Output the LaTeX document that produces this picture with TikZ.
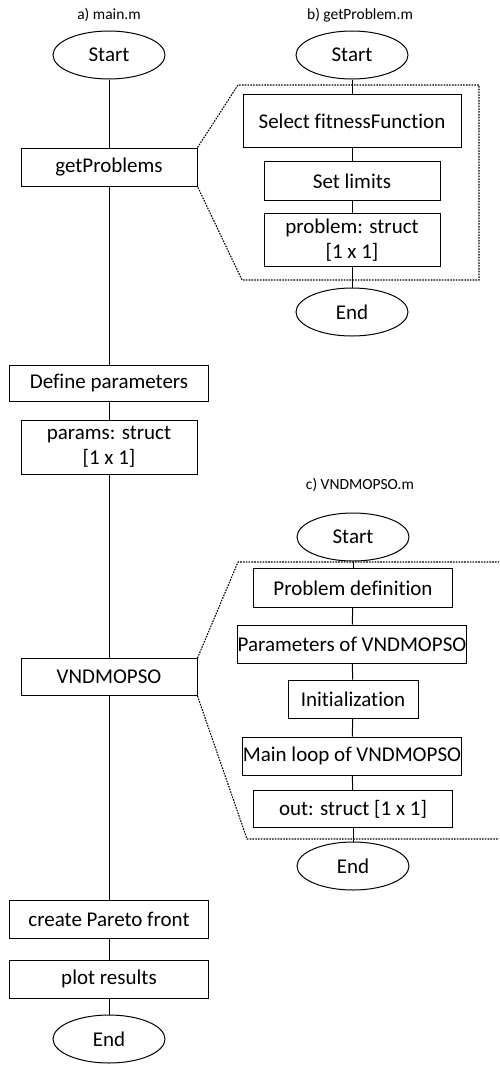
\documentclass[tikz,border=0pt]{standalone}
\usepackage{fontspec}
\setmainfont[Ligatures=NoCommon]{Carlito}
\usetikzlibrary{shapes.geometric,positioning}

\begin{document}
\begin{tikzpicture}
[x=1pt,y=-1pt,line width=1pt,
term/.style = {draw, ellipse, minimum width=112, minimum height=48, inner sep=0pt, font=\fontsize{21}{25}\selectfont},
proc/.style = {draw, rectangle, minimum height=38, inner sep=0pt, align=center, font=\fontsize{21}{25}\selectfont},
title/.style = {font=\fontsize{15.5}{18}\selectfont},
zoomline/.style = {dash pattern=on 1.6pt off 1.2pt, line width=1.1pt},]
\useasboundingbox (0,0) rectangle (499,1066);

% a) main.m
\node (ta) at (109,15)[title] {a) main.m};
\node (s1) at (109,55)[term] {Start};
\node (gp) at (109,167)[proc,minimum width=176] {getProblems};
\node (dp) at (109,383)[proc,minimum width=199,minimum height=36] {Define parameters};
\node (pa) at (109,447)[proc,minimum width=176,minimum height=54] {params: struct\\{}[1 x 1]};
\node (vn) at (109,677)[proc,minimum width=176,minimum height=37] {VNDMOPSO};
\node (cp) at (109,919)[proc,minimum width=199] {create Pareto front};
\node (pr) at (109,979)[proc,minimum width=199] {plot results};
\node (e1) at (109,1039)[term] {End};

\draw (s1)--(gp);
\draw (gp)--(dp);
\draw (dp)--(pa);
\draw (pa)--(vn);
\draw (vn)--(cp);
\draw (cp)--(pr);
\draw (pr)--(e1);

% b) getProblem.m
\node (tb) at (360,15)[title] {b) getProblem.m};
\node (s2) at (352,55)[term] {Start};
\node (sf) at (352,121)[proc,minimum width=218,minimum height=53] {Select fitnessFunction};
\node (sl) at (352,181)[proc,minimum width=176,minimum height=39] {Set limits};
\node (ps) at (352,240)[proc,minimum width=176,minimum height=53] {problem: struct\\{}[1 x 1]};
\node (e2) at (352,312)[term] {End};

\draw (s2)--(sf);
\draw (sf)--(sl);
\draw (sl)--(ps);
\draw (ps)--(e2);

\coordinate (b1) at (238,85);
\coordinate (b2) at (479,85);
\coordinate (b3) at (479,280);
\coordinate (b4) at (242,280);
\draw[zoomline] (gp.north east)--(b1)--(b2)--(b3)--(b4)--(gp.south east);

% c) VNDMOPSO.m
\node (tc) at (360,485)[title] {c) VNDMOPSO.m};
\node (s3) at (353,537)[term] {Start};
\node (pd) at (353,588)[proc,minimum width=199,minimum height=39] {Problem definition};
\node (pv) at (352,644)[proc,minimum width=218] {Parameters of VNDMOPSO};
\node (in) at (353,699)[proc,minimum width=130] {Initialization};
\node (ml) at (352,756)[proc,minimum width=218] {Main loop of VNDMOPSO};
\node (os) at (353,809)[proc,minimum width=199,minimum height=37] {out: struct [1 x 1]};
\node (e3) at (353,866)[term] {End};

\draw (s3)--(pd);
\draw (pd)--(pv);
\draw (pv)--(in);
\draw (in)--(ml);
\draw (ml)--(os);
\draw (os)--(e3);

\coordinate (c1) at (238,562);
\coordinate (c2) at (499,562);
\coordinate (c3) at (247,839);
\coordinate (c4) at (499,839);
\draw[zoomline] (vn.north east)--(c1)--(c2);
\draw[zoomline] (vn.south east)--(c3)--(c4);

\end{tikzpicture}
\end{document}
